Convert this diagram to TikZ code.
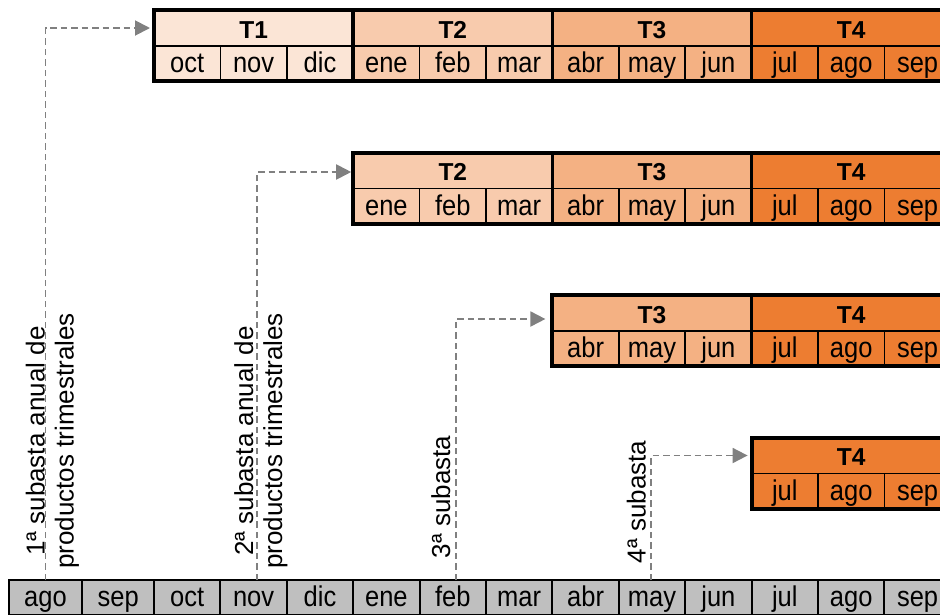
\documentclass[tikz,border=0pt]{standalone}
\usepackage{fontspec}
\usepackage{graphicx}
\setmainfont{Liberation Sans}
\usetikzlibrary{arrows.meta}
\definecolor{qone}{HTML}{FBE5D6}
\definecolor{qtwo}{HTML}{F8CBAD}
\definecolor{qthree}{HTML}{F4B183}
\definecolor{qfour}{HTML}{ED7D31}
\definecolor{basegray}{HTML}{BFBFBF}
\definecolor{arrowgray}{HTML}{808080}
\newcommand{\mtxt}[1]{\scalebox{1}[1.12]{#1}}
\tikzset{
  cellbox/.style={draw=black, line width=1.6pt, inner sep=0pt, outer sep=0pt,
    minimum width=66.4pt, minimum height=35pt, text height=20pt, text depth=2pt,
    font=\fontsize{25.5}{30}\selectfont},
  headbox/.style={draw=black, line width=1.6pt, inner sep=0pt, outer sep=0pt,
    minimum width=199.2pt, minimum height=36pt, text height=22.6pt, text depth=2pt,
    font=\fontsize{24.5}{29}\selectfont\bfseries},
  basebox/.style={cellbox, fill=basegray, line width=2pt},
  groupline/.style={draw=black, line width=3.5pt},
  outerline/.style={draw=black, line width=4pt},
  conn/.style={draw=arrowgray, line width=1.9pt, dash pattern=on 6.5pt off 4pt,
    -{Triangle[length=15pt,width=15pt]}, shorten >=4pt},
  labeltext/.style={rotate=90, inner sep=0pt, outer sep=0pt,
    font=\fontsize{26}{31}\selectfont}
}
\begin{document}
\begin{tikzpicture}[x=1pt,y=-1pt]
\useasboundingbox (0,0) rectangle (940,614);
\clip (0,0) rectangle (940,614);
% quarter tables
\foreach \i in {1,...,4}{
  \pgfmathsetmacro\Y{10+142.5*(\i-1)}
  \foreach \g/\col in {1/qone,2/qtwo,3/qthree,4/qfour}{
    \ifnum\g<\i\relax\else
      \node[headbox, fill=\col] (h\i-\g) at ({154+199.2*(\g-0.5)},{\Y+18}) {T\g};
    \fi
  }
  \foreach \k/\mn/\g/\col in {0/oct/1/qone,1/nov/1/qone,2/dic/1/qone,
      3/ene/2/qtwo,4/feb/2/qtwo,5/mar/2/qtwo,
      6/abr/3/qthree,7/may/3/qthree,8/jun/3/qthree,
      9/jul/4/qfour,10/ago/4/qfour,11/sep/4/qfour}{
    \ifnum\g<\i\relax\else
      \node[cellbox, fill=\col] (m\i-\k) at ({154+66.4*(\k+0.5)},{\Y+53.5}) {\mtxt{\mn}};
    \fi
  }
  \foreach \g in {\i,...,4}{
    \pgfmathtruncatemacro\kl{3*\g-1}
    \draw[groupline] (h\i-\g.north west) rectangle (m\i-\kl.south east);
  }
  \draw[outerline] (h\i-\i.north west) rectangle (m\i-11.south east);
}
% base timeline
\node[basebox, minimum width=73pt] (bago) at (45.5,597.5) {\mtxt{ago}};
\node[basebox, minimum width=72.5pt] (bsep) at (118.25,597.5) {\mtxt{sep}};
\foreach \k/\mn in {0/oct,1/nov,2/dic,3/ene,4/feb,5/mar,6/abr,7/may,8/jun,9/jul,10/ago,11/sep}{
  \node[basebox] (b-\k) at ({154+66.4*(\k+0.5)},597.5) {\mtxt{\mn}};
}
% connectors
\draw[conn] (bago.north) |- (h1-1.west);
\draw[conn, shorten >=2pt] ([xshift=3pt]b-1.north) |- ([yshift=-1.5pt]h2-2.west);
\draw[conn, shorten >=7pt] ([xshift=3pt]b-4.north) |- ([yshift=-6pt]h3-3.west);
\draw[conn] ([xshift=-1pt]b-7.north) |- (h4-4.west);
% labels
\node[labeltext, anchor=base] (l1a) at (44.5,441) {1ª subasta anual de};
\node[labeltext, anchor=base] (l1b) at (73.5,441) {productos trimestrales};
\node[labeltext, anchor=base] (l2a) at (253,441) {2ª subasta anual de};
\node[labeltext, anchor=base] (l2b) at (282,441) {productos trimestrales};
\node[labeltext, anchor=base west] (l3) at (450,558) {3ª subasta};
\node[labeltext, anchor=base west] (l4) at (645.5,563) {4ª subasta};
\end{tikzpicture}
\end{document}
